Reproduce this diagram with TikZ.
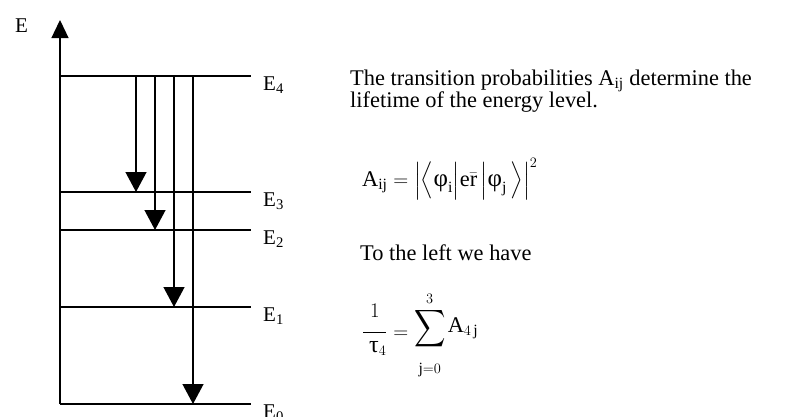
\documentclass[tikz,border=0pt]{standalone}
\usepackage{amsmath}
\usepackage{exscale}
\usepackage{graphicx}
\usepackage{fontspec}
\setmainfont{Liberation Serif}
\usetikzlibrary{arrows.meta}
\tikzset{
  level/.style={line width=1.3pt},
  trans/.style={line width=1.3pt,-{Triangle[width=21pt,length=20pt]}},
  lbl/.style={anchor=base west,inner sep=0pt,font=\fontsize{21}{24}\selectfont},
  txt/.style={anchor=base west,inner sep=0pt,font=\fontsize{22.4}{26}\selectfont},
}
\newcommand{\delimstrut}{\vrule height 20pt depth 6pt width 0pt}
\newcommand{\bigphi}{\mbox{\fontsize{25}{26}\selectfont φ}}
\newcommand{\bigtau}{\mbox{\fontsize{24}{26}\selectfont τ}}
\newcommand{\bigsum}{\mathop{\raisebox{4pt}{$\vcenter{\hbox{\scalebox{1.05}[1.25]{$\displaystyle\sum$}}}$}}\limits}
\begin{document}
\begin{tikzpicture}[x=1pt,y=-1pt]
\useasboundingbox (0,0) rectangle (787,416);
% axis
\coordinate (ab) at (60,404);
\coordinate (at) at (60,20);
\draw[line width=1.3pt,-{Triangle[width=17pt,length=18pt]}] (ab) -- (at);
\node[lbl] (E) at (15,32) {E};
% levels
\foreach \n/\y in {4/76,3/192,2/230,1/307,0/404}{
  \coordinate (L\n a) at (60,\y);
  \coordinate (L\n b) at (251,\y);
  \draw[level] (L\n a) -- (L\n b);
  \node[lbl] (E\n) at (263,\y+14) {E\textsubscript{\n}};
}
% transitions
\foreach \n/\x in {3/136,2/155,1/174,0/193}{
  \coordinate (s\n) at (\x,76);
  \draw[trans] (s\n) -- (s\n |- L\n a);
}
% text
\node[txt] (t1) at (350,85) {The transition probabilities A\textsubscript{ij} determine the};
\node[txt] (t2) at (350,107) {lifetime of the energy level.};
\node[txt] (f1) at (362,186) {$\mathrm{A}_{\mathrm{ij}} = \left|\left\langle \delimstrut \bigphi_{\mathrm{i}} \middle| \mathrm{e}\bar{\mathrm{r}}\, \middle| \bigphi_{\mathrm{j}}\,\right\rangle\right|^{2}$};
\node[txt] (t3) at (360,260) {To the left we have};
\node[txt] (f2) at (362,338) {$\displaystyle \frac{\vrule height 0pt depth 12pt width 0pt 1}{\;\bigtau_{4}} = \bigsum_{\vrule height 20pt width 0pt\mathrm{j}=0}^{3}\mkern-1mu\raisebox{6pt}{$\mathrm{A}_{4\,\mathrm{j}}$}$};
\end{tikzpicture}
\end{document}
